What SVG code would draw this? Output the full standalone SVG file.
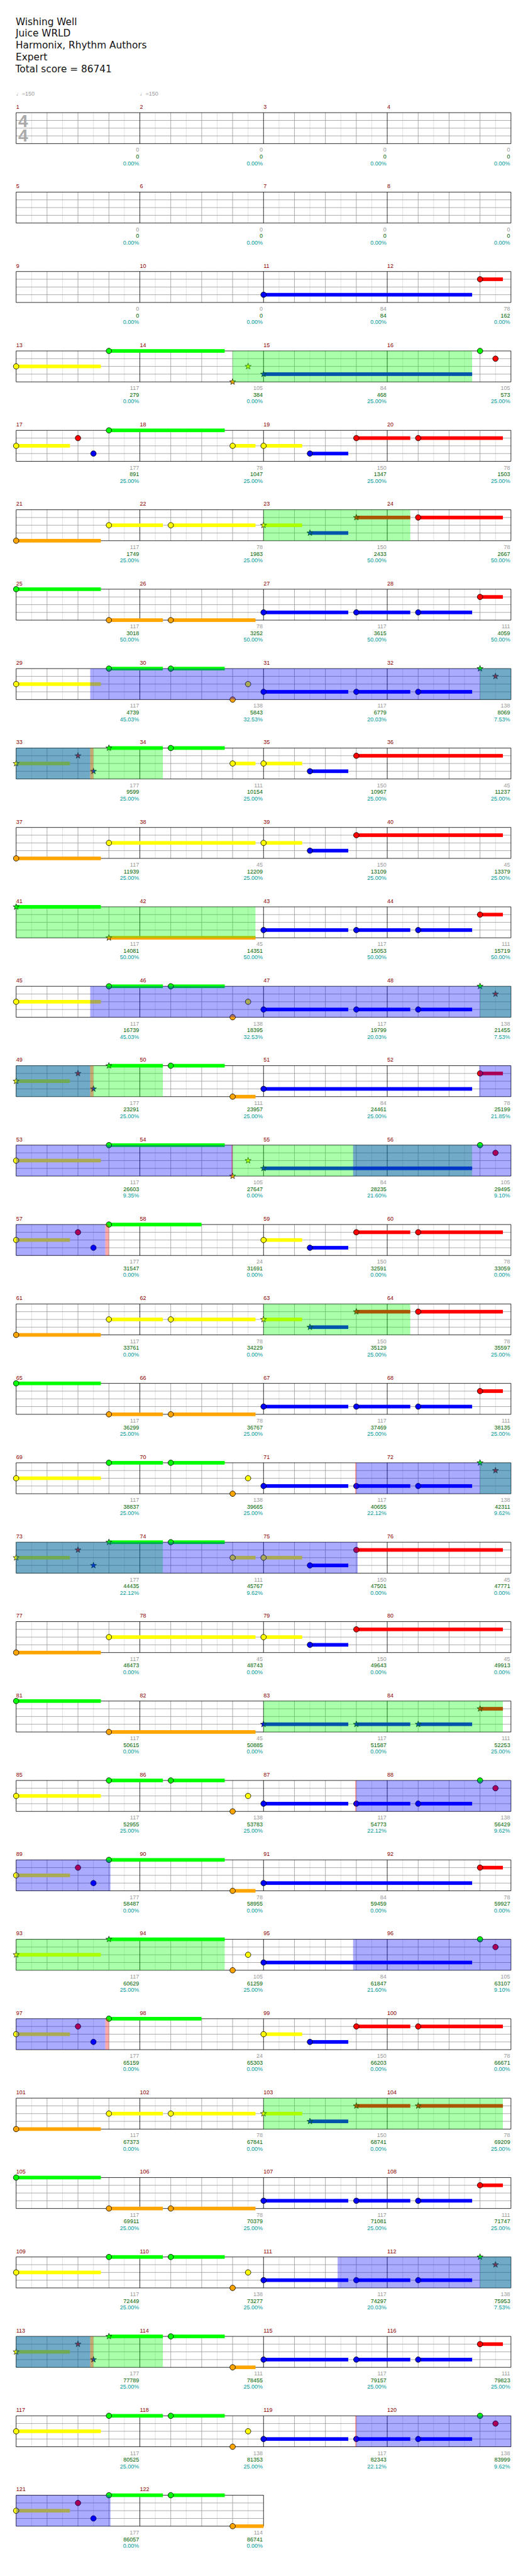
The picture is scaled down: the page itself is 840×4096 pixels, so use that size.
<svg xmlns="http://www.w3.org/2000/svg" xmlns:xlink="http://www.w3.org/1999/xlink" width="840" height="4096" viewBox="0 0 840 4096">
<style>
.G{fill:#00ff00}.R{fill:#ff0000}.Y{fill:#ffff00}.B{fill:#0000ff}.O{fill:#ffa500}
.og{fill:#00ff00;fill-opacity:.333}.ob{fill:#0000ff;fill-opacity:.333}.or{fill:#ff0000;fill-opacity:.333}
text{font-family:"Liberation Sans",Arial,sans-serif;font-size:11px}
.mn{fill:#8b0000}.a{fill:#999;text-anchor:end}.b{fill:#006400;text-anchor:end}.p{fill:#009999;text-anchor:end}
.h{font-family:"DejaVu Sans",Verdana,sans-serif;font-size:18.7px;fill:#111}
.tp{fill:#999}
.ts{font-size:34px;font-weight:bold;fill:#aaa}
</style>
<defs>
<circle id="c" r="5.3" stroke="#000" stroke-width="1"/>
<path id="s" d="M0,-6.2L1.45,-2L5.9,-1.9L2.35,0.76L3.65,5L0,2.5L-3.65,5L-2.35,0.76L-5.9,-1.9L-1.45,-2Z" stroke="#000" stroke-width="0.8"/>
<g id="st4">
<path d="M30,0V60M90,0V60M150,0V60M210,0V60M270,0V60M330,0V60M390,0V60M450,0V60M510,0V60M570,0V60M630,0V60M690,0V60M750,0V60M810,0V60M870,0V60M930,0V60" stroke="#dcdcdc" fill="none"/>
<path d="M0,15H960M0,30H960M0,45H960M60,0V60M120,0V60M180,0V60M300,0V60M360,0V60M420,0V60M540,0V60M600,0V60M660,0V60M780,0V60M840,0V60M900,0V60" stroke="#999" fill="none"/>
<path d="M0,0H960V60H0ZM240,0V60M480,0V60M720,0V60" fill="none" stroke="#000"/>
</g>
<g id="st2">
<path d="M30,0V60M90,0V60M150,0V60M210,0V60M270,0V60M330,0V60M390,0V60M450,0V60" stroke="#dcdcdc" fill="none"/>
<path d="M0,15H480M0,30H480M0,45H480M60,0V60M120,0V60M180,0V60M300,0V60M360,0V60M420,0V60" stroke="#999" fill="none"/>
<path d="M0,0H480V60H0ZM240,0V60" fill="none" stroke="#000"/>
</g>
<g id="b3">
<rect class="B" x="480" y="41.5" width="164.4" height="7"/><use href="#c" class="B" x="480" y="45"/>
<rect class="B" x="660" y="41.5" width="104.7" height="7"/><use href="#c" class="B" x="660" y="45"/>
<rect class="B" x="780" y="41.5" width="104.7" height="7"/><use href="#c" class="B" x="780" y="45"/>
</g>
<g id="rr"><rect class="R" x="900" y="11.5" width="44.4" height="7"/><use href="#c" class="R" x="900" y="15"/></g>
<g id="pA">
<rect class="Y" x="0" y="26.5" width="164.4" height="7"/><use href="#c" class="Y" x="0" y="30"/>
<rect class="G" x="180" y="-3.5" width="104.7" height="7"/><use href="#c" class="G" x="180" y="0"/>
<rect class="G" x="300" y="-3.5" width="104.7" height="7"/><use href="#c" class="G" x="300" y="0"/>
<use href="#c" class="O" x="420" y="60"/><use href="#c" class="Y" x="450" y="30"/>
<use href="#b3"/>
</g>
<g id="pB">
<rect class="G" x="0" y="-3.5" width="164.4" height="7"/><use href="#c" class="G" x="0" y="0"/>
<rect class="O" x="180" y="56.5" width="104.7" height="7"/><use href="#c" class="O" x="180" y="60"/>
<rect class="O" x="300" y="56.5" width="164.4" height="7"/><use href="#c" class="O" x="300" y="60"/>
<use href="#b3"/><use href="#rr"/>
</g>
<g id="pT">
<rect class="Y" x="480" y="26.5" width="75" height="7"/><use href="#c" class="Y" x="480" y="30"/>
<rect class="B" x="570" y="41.5" width="74.4" height="7"/><use href="#c" class="B" x="570" y="45"/>
<rect class="R" x="660" y="11.5" width="284.4" height="7"/><use href="#c" class="R" x="660" y="15"/>
</g>
<g id="pC">
<rect class="O" x="0" y="56.5" width="164.4" height="7"/><use href="#c" class="O" x="0" y="60"/>
<rect class="Y" x="180" y="26.5" width="284.4" height="7"/><use href="#c" class="Y" x="180" y="30"/>
<use href="#pT"/>
</g>
<g id="pH">
<rect class="Y" x="0" y="26.5" width="104.4" height="7"/><use href="#s" class="Y" x="0" y="30"/>
<use href="#s" class="R" x="120" y="15"/><use href="#s" class="B" x="150" y="45"/>
<rect class="G" x="180" y="-3.5" width="104.7" height="7"/><use href="#s" class="G" x="180" y="0"/>
<rect class="G" x="300" y="-3.5" width="104.7" height="7"/><use href="#c" class="G" x="300" y="0"/>
</g>
<g id="pV">
<rect class="Y" x="0" y="26.5" width="104.4" height="7"/><use href="#c" class="Y" x="0" y="30"/>
<use href="#c" class="R" x="120" y="15"/><use href="#c" class="B" x="150" y="45"/>
</g>
<g id="pU">
<rect class="Y" x="480" y="26.5" width="75" height="7"/><use href="#c" class="Y" x="480" y="30"/>
<rect class="B" x="570" y="41.5" width="74.4" height="7"/><use href="#c" class="B" x="570" y="45"/>
<rect class="R" x="660" y="11.5" width="104.7" height="7"/><use href="#c" class="R" x="660" y="15"/>
<rect class="R" x="780" y="11.5" width="164.4" height="7"/><use href="#c" class="R" x="780" y="15"/>
</g>
<g id="pS">
<rect class="O" x="0" y="56.5" width="164.4" height="7"/><use href="#c" class="O" x="0" y="60"/>
<rect class="Y" x="180" y="26.5" width="104.7" height="7"/><use href="#c" class="Y" x="180" y="30"/>
<rect class="Y" x="300" y="26.5" width="164.4" height="7"/><use href="#c" class="Y" x="300" y="30"/>
</g>
<g id="pX">
<rect class="Y" x="480" y="26.5" width="75" height="7"/><use href="#s" class="Y" x="480" y="30"/>
<rect class="B" x="570" y="41.5" width="74.4" height="7"/><use href="#s" class="B" x="570" y="45"/>
<rect class="R" x="660" y="11.5" width="104.7" height="7"/><use href="#s" class="R" x="660" y="15"/>
<rect class="R" x="780" y="11.5" width="164.4" height="7"/>
</g>
<g id="pW">
<rect class="Y" x="0" y="26.5" width="164.4" height="7"/><use href="#c" class="Y" x="0" y="30"/>
<rect class="G" x="180" y="-3.5" width="224.7" height="7"/><use href="#c" class="G" x="180" y="0"/>
<use href="#s" class="O" x="420" y="60"/><use href="#s" class="Y" x="450" y="30"/>
<rect class="B" x="480" y="41.5" width="404.7" height="7"/><use href="#s" class="B" x="480" y="45"/>
<use href="#c" class="G" x="900" y="0"/><use href="#c" class="R" x="930" y="15"/>
</g>
</defs>
<rect width="840" height="4096" fill="#fff"/>
<g transform="scale(0.82)">
<g id="header">
<text class="h" x="30.5" y="48.3">Wishing Well</text>
<text class="h" x="30.5" y="71">Juice WRLD</text>
<text class="h" x="30.5" y="94">Harmonix, Rhythm Authors</text>
<text class="h" x="30.5" y="117.3">Expert</text>
<text class="h" x="30" y="140">Total score = 86741</text>
</g>

<g id="row1" transform="translate(31.3,218.5)">
<use href="#st4"/>
<text class="ts" x="4" y="28.2">4</text><text class="ts" x="4" y="56.5">4</text>
<text class="tp" x="0" y="-33.5">♩=150</text><text class="tp" x="240" y="-33.5">♩=150</text>
<text class="mn" y="-7.5"><tspan x="0">1</tspan><tspan x="240">2</tspan><tspan x="480">3</tspan><tspan x="720">4</tspan></text>
<text class="a" y="76"><tspan x="238.5">0</tspan><tspan x="478.5">0</tspan><tspan x="718.5">0</tspan><tspan x="958.5">0</tspan></text>
<text class="b" y="89"><tspan x="238.5">0</tspan><tspan x="478.5">0</tspan><tspan x="718.5">0</tspan><tspan x="958.5">0</tspan></text>
<text class="p" y="101.7"><tspan x="238.5">0.00%</tspan><tspan x="478.5">0.00%</tspan><tspan x="718.5">0.00%</tspan><tspan x="958.5">0.00%</tspan></text>
</g>

<g id="row2" transform="translate(31.3,372.5)">
<use href="#st4"/>
<text class="mn" y="-7.5"><tspan x="0">5</tspan><tspan x="240">6</tspan><tspan x="480">7</tspan><tspan x="720">8</tspan></text>
<text class="a" y="76"><tspan x="238.5">0</tspan><tspan x="478.5">0</tspan><tspan x="718.5">0</tspan><tspan x="958.5">0</tspan></text>
<text class="b" y="89"><tspan x="238.5">0</tspan><tspan x="478.5">0</tspan><tspan x="718.5">0</tspan><tspan x="958.5">0</tspan></text>
<text class="p" y="101.7"><tspan x="238.5">0.00%</tspan><tspan x="478.5">0.00%</tspan><tspan x="718.5">0.00%</tspan><tspan x="958.5">0.00%</tspan></text>
</g>

<g id="row3" transform="translate(31.3,526.5)">
<use href="#st4"/>
<rect class="B" x="480" y="41.5" width="404.7" height="7"/><use href="#c" class="B" x="480" y="45"/><use href="#rr"/>
<text class="mn" y="-7.5"><tspan x="0">9</tspan><tspan x="240">10</tspan><tspan x="480">11</tspan><tspan x="720">12</tspan></text>
<text class="a" y="76"><tspan x="238.5">0</tspan><tspan x="478.5">0</tspan><tspan x="718.5">84</tspan><tspan x="958.5">78</tspan></text>
<text class="b" y="89"><tspan x="238.5">0</tspan><tspan x="478.5">0</tspan><tspan x="718.5">84</tspan><tspan x="958.5">162</tspan></text>
<text class="p" y="101.7"><tspan x="238.5">0.00%</tspan><tspan x="478.5">0.00%</tspan><tspan x="718.5">0.00%</tspan><tspan x="958.5">0.00%</tspan></text>
</g>

<g id="row4" transform="translate(31.3,680.5)">
<use href="#st4"/>
<use href="#pW"/>
<rect class="og" x="420" y="0" width="464.7" height="60"/>
<text class="mn" y="-7.5"><tspan x="0">13</tspan><tspan x="240">14</tspan><tspan x="480">15</tspan><tspan x="720">16</tspan></text>
<text class="a" y="76"><tspan x="238.5">117</tspan><tspan x="478.5">105</tspan><tspan x="718.5">84</tspan><tspan x="958.5">105</tspan></text>
<text class="b" y="89"><tspan x="238.5">279</tspan><tspan x="478.5">384</tspan><tspan x="718.5">468</tspan><tspan x="958.5">573</tspan></text>
<text class="p" y="101.7"><tspan x="238.5">0.00%</tspan><tspan x="478.5">0.00%</tspan><tspan x="718.5">25.00%</tspan><tspan x="958.5">25.00%</tspan></text>
</g>

<g id="row5" transform="translate(31.3,834.5)">
<use href="#st4"/>
<use href="#pV"/>
<rect class="G" x="180" y="-3.5" width="224.7" height="7"/><use href="#c" class="G" x="180" y="0"/>
<rect class="Y" x="420" y="26.5" width="44.4" height="7"/><use href="#c" class="Y" x="420" y="30"/>
<use href="#pU"/>
<text class="mn" y="-7.5"><tspan x="0">17</tspan><tspan x="240">18</tspan><tspan x="480">19</tspan><tspan x="720">20</tspan></text>
<text class="a" y="76"><tspan x="238.5">177</tspan><tspan x="478.5">78</tspan><tspan x="718.5">150</tspan><tspan x="958.5">78</tspan></text>
<text class="b" y="89"><tspan x="238.5">891</tspan><tspan x="478.5">1047</tspan><tspan x="718.5">1347</tspan><tspan x="958.5">1503</tspan></text>
<text class="p" y="101.7"><tspan x="238.5">25.00%</tspan><tspan x="478.5">25.00%</tspan><tspan x="718.5">25.00%</tspan><tspan x="958.5">25.00%</tspan></text>
</g>

<g id="row6" transform="translate(31.3,988.5)">
<use href="#st4"/>
<use href="#pS"/><use href="#pX"/><use href="#c" class="R" x="780" y="15"/>
<rect class="og" x="480" y="0" width="284.7" height="60"/>
<text class="mn" y="-7.5"><tspan x="0">21</tspan><tspan x="240">22</tspan><tspan x="480">23</tspan><tspan x="720">24</tspan></text>
<text class="a" y="76"><tspan x="238.5">117</tspan><tspan x="478.5">78</tspan><tspan x="718.5">150</tspan><tspan x="958.5">78</tspan></text>
<text class="b" y="89"><tspan x="238.5">1749</tspan><tspan x="478.5">1983</tspan><tspan x="718.5">2433</tspan><tspan x="958.5">2667</tspan></text>
<text class="p" y="101.7"><tspan x="238.5">25.00%</tspan><tspan x="478.5">25.00%</tspan><tspan x="718.5">50.00%</tspan><tspan x="958.5">50.00%</tspan></text>
</g>

<g id="row7" transform="translate(31.3,1142.5)">
<use href="#st4"/>
<use href="#pB"/>
<text class="mn" y="-7.5"><tspan x="0">25</tspan><tspan x="240">26</tspan><tspan x="480">27</tspan><tspan x="720">28</tspan></text>
<text class="a" y="76"><tspan x="238.5">117</tspan><tspan x="478.5">78</tspan><tspan x="718.5">117</tspan><tspan x="958.5">111</tspan></text>
<text class="b" y="89"><tspan x="238.5">3018</tspan><tspan x="478.5">3252</tspan><tspan x="718.5">3615</tspan><tspan x="958.5">4059</tspan></text>
<text class="p" y="101.7"><tspan x="238.5">50.00%</tspan><tspan x="478.5">50.00%</tspan><tspan x="718.5">50.00%</tspan><tspan x="958.5">50.00%</tspan></text>
</g>

<g id="row8" transform="translate(31.3,1296.5)">
<use href="#st4"/>
<use href="#pA"/><use href="#s" class="G" x="900" y="0"/><use href="#s" class="R" x="930" y="15"/>
<rect class="og" x="900" y="0" width="60" height="60"/><rect class="ob" x="143.7" y="0" width="816.3" height="60"/>
<text class="mn" y="-7.5"><tspan x="0">29</tspan><tspan x="240">30</tspan><tspan x="480">31</tspan><tspan x="720">32</tspan></text>
<text class="a" y="76"><tspan x="238.5">117</tspan><tspan x="478.5">138</tspan><tspan x="718.5">117</tspan><tspan x="958.5">138</tspan></text>
<text class="b" y="89"><tspan x="238.5">4739</tspan><tspan x="478.5">5843</tspan><tspan x="718.5">6779</tspan><tspan x="958.5">8069</tspan></text>
<text class="p" y="101.7"><tspan x="238.5">45.03%</tspan><tspan x="478.5">32.53%</tspan><tspan x="718.5">20.03%</tspan><tspan x="958.5">7.53%</tspan></text>
</g>

<g id="row9" transform="translate(31.3,1450.5)">
<use href="#st4"/>
<use href="#pH"/>
<rect class="Y" x="420" y="26.5" width="44.4" height="7"/><use href="#c" class="Y" x="420" y="30"/>
<use href="#pT"/>
<rect class="og" x="0" y="0" width="284.7" height="60"/><rect class="ob" x="0" y="0" width="143.7" height="60"/><rect class="or" x="143.7" y="0" width="6.3" height="60"/>
<text class="mn" y="-7.5"><tspan x="0">33</tspan><tspan x="240">34</tspan><tspan x="480">35</tspan><tspan x="720">36</tspan></text>
<text class="a" y="76"><tspan x="238.5">177</tspan><tspan x="478.5">111</tspan><tspan x="718.5">150</tspan><tspan x="958.5">45</tspan></text>
<text class="b" y="89"><tspan x="238.5">9599</tspan><tspan x="478.5">10154</tspan><tspan x="718.5">10967</tspan><tspan x="958.5">11237</tspan></text>
<text class="p" y="101.7"><tspan x="238.5">25.00%</tspan><tspan x="478.5">25.00%</tspan><tspan x="718.5">25.00%</tspan><tspan x="958.5">25.00%</tspan></text>
</g>

<g id="row10" transform="translate(31.3,1604.5)">
<use href="#st4"/>
<use href="#pC"/>
<text class="mn" y="-7.5"><tspan x="0">37</tspan><tspan x="240">38</tspan><tspan x="480">39</tspan><tspan x="720">40</tspan></text>
<text class="a" y="76"><tspan x="238.5">117</tspan><tspan x="478.5">45</tspan><tspan x="718.5">150</tspan><tspan x="958.5">45</tspan></text>
<text class="b" y="89"><tspan x="238.5">11939</tspan><tspan x="478.5">12209</tspan><tspan x="718.5">13109</tspan><tspan x="958.5">13379</tspan></text>
<text class="p" y="101.7"><tspan x="238.5">25.00%</tspan><tspan x="478.5">25.00%</tspan><tspan x="718.5">25.00%</tspan><tspan x="958.5">25.00%</tspan></text>
</g>

<g id="row11" transform="translate(31.3,1758.5)">
<use href="#st4"/>
<rect class="G" x="0" y="-3.5" width="164.4" height="7"/><use href="#s" class="G" x="0" y="0"/>
<rect class="O" x="180" y="56.5" width="284.4" height="7"/><use href="#s" class="O" x="180" y="60"/>
<use href="#b3"/><use href="#rr"/>
<rect class="og" x="0" y="0" width="464.4" height="60"/>
<text class="mn" y="-7.5"><tspan x="0">41</tspan><tspan x="240">42</tspan><tspan x="480">43</tspan><tspan x="720">44</tspan></text>
<text class="a" y="76"><tspan x="238.5">117</tspan><tspan x="478.5">45</tspan><tspan x="718.5">117</tspan><tspan x="958.5">111</tspan></text>
<text class="b" y="89"><tspan x="238.5">14081</tspan><tspan x="478.5">14351</tspan><tspan x="718.5">15053</tspan><tspan x="958.5">15719</tspan></text>
<text class="p" y="101.7"><tspan x="238.5">50.00%</tspan><tspan x="478.5">50.00%</tspan><tspan x="718.5">50.00%</tspan><tspan x="958.5">50.00%</tspan></text>
</g>

<g id="row12" transform="translate(31.3,1912.5)">
<use href="#st4"/>
<use href="#pA"/><use href="#s" class="G" x="900" y="0"/><use href="#s" class="R" x="930" y="15"/>
<rect class="og" x="900" y="0" width="60" height="60"/><rect class="ob" x="143.7" y="0" width="816.3" height="60"/>
<text class="mn" y="-7.5"><tspan x="0">45</tspan><tspan x="240">46</tspan><tspan x="480">47</tspan><tspan x="720">48</tspan></text>
<text class="a" y="76"><tspan x="238.5">117</tspan><tspan x="478.5">138</tspan><tspan x="718.5">117</tspan><tspan x="958.5">138</tspan></text>
<text class="b" y="89"><tspan x="238.5">16739</tspan><tspan x="478.5">18395</tspan><tspan x="718.5">19799</tspan><tspan x="958.5">21455</tspan></text>
<text class="p" y="101.7"><tspan x="238.5">45.03%</tspan><tspan x="478.5">32.53%</tspan><tspan x="718.5">20.03%</tspan><tspan x="958.5">7.53%</tspan></text>
</g>

<g id="row13" transform="translate(31.3,2066.5)">
<use href="#st4"/>
<use href="#pH"/>
<rect class="O" x="420" y="56.5" width="44.4" height="7"/><use href="#c" class="O" x="420" y="60"/>
<rect class="B" x="480" y="41.5" width="404.7" height="7"/><use href="#c" class="B" x="480" y="45"/><use href="#rr"/>
<rect class="og" x="0" y="0" width="284.7" height="60"/><rect class="ob" x="0" y="0" width="143.7" height="60"/><rect class="or" x="143.7" y="0" width="6.3" height="60"/>
<rect class="ob" x="898.5" y="0" width="61.5" height="60"/>
<text class="mn" y="-7.5"><tspan x="0">49</tspan><tspan x="240">50</tspan><tspan x="480">51</tspan><tspan x="720">52</tspan></text>
<text class="a" y="76"><tspan x="238.5">177</tspan><tspan x="478.5">111</tspan><tspan x="718.5">84</tspan><tspan x="958.5">78</tspan></text>
<text class="b" y="89"><tspan x="238.5">23291</tspan><tspan x="478.5">23957</tspan><tspan x="718.5">24461</tspan><tspan x="958.5">25199</tspan></text>
<text class="p" y="101.7"><tspan x="238.5">25.00%</tspan><tspan x="478.5">25.00%</tspan><tspan x="718.5">25.00%</tspan><tspan x="958.5">21.85%</tspan></text>
</g>

<g id="row14" transform="translate(31.3,2220.5)">
<use href="#st4"/>
<use href="#pW"/>
<rect class="ob" x="0" y="0" width="420" height="60"/><rect class="or" x="417.6" y="0" width="2.4" height="60"/>
<rect class="og" x="420" y="0" width="464.7" height="60"/><rect class="ob" x="653.7" y="0" width="306.3" height="60"/>
<text class="mn" y="-7.5"><tspan x="0">53</tspan><tspan x="240">54</tspan><tspan x="480">55</tspan><tspan x="720">56</tspan></text>
<text class="a" y="76"><tspan x="238.5">117</tspan><tspan x="478.5">105</tspan><tspan x="718.5">84</tspan><tspan x="958.5">105</tspan></text>
<text class="b" y="89"><tspan x="238.5">26603</tspan><tspan x="478.5">27647</tspan><tspan x="718.5">28235</tspan><tspan x="958.5">29495</tspan></text>
<text class="p" y="101.7"><tspan x="238.5">9.35%</tspan><tspan x="478.5">0.00%</tspan><tspan x="718.5">21.60%</tspan><tspan x="958.5">9.10%</tspan></text>
</g>

<g id="row15" transform="translate(31.3,2374.5)">
<use href="#st4"/>
<use href="#pV"/>
<rect class="G" x="180" y="-3.5" width="179.7" height="7"/><use href="#c" class="G" x="180" y="0"/>
<use href="#pU"/>
<rect class="ob" x="0" y="0" width="173.1" height="60"/><rect class="or" x="173.1" y="0" width="6.9" height="60"/>
<text class="mn" y="-7.5"><tspan x="0">57</tspan><tspan x="240">58</tspan><tspan x="480">59</tspan><tspan x="720">60</tspan></text>
<text class="a" y="76"><tspan x="238.5">177</tspan><tspan x="478.5">24</tspan><tspan x="718.5">150</tspan><tspan x="958.5">78</tspan></text>
<text class="b" y="89"><tspan x="238.5">31547</tspan><tspan x="478.5">31691</tspan><tspan x="718.5">32591</tspan><tspan x="958.5">33059</tspan></text>
<text class="p" y="101.7"><tspan x="238.5">0.00%</tspan><tspan x="478.5">0.00%</tspan><tspan x="718.5">0.00%</tspan><tspan x="958.5">0.00%</tspan></text>
</g>

<g id="row16" transform="translate(31.3,2528.5)">
<use href="#st4"/>
<use href="#pS"/><use href="#pX"/><use href="#c" class="R" x="780" y="15"/>
<rect class="og" x="480" y="0" width="284.7" height="60"/>
<text class="mn" y="-7.5"><tspan x="0">61</tspan><tspan x="240">62</tspan><tspan x="480">63</tspan><tspan x="720">64</tspan></text>
<text class="a" y="76"><tspan x="238.5">117</tspan><tspan x="478.5">78</tspan><tspan x="718.5">150</tspan><tspan x="958.5">78</tspan></text>
<text class="b" y="89"><tspan x="238.5">33761</tspan><tspan x="478.5">34229</tspan><tspan x="718.5">35129</tspan><tspan x="958.5">35597</tspan></text>
<text class="p" y="101.7"><tspan x="238.5">0.00%</tspan><tspan x="478.5">0.00%</tspan><tspan x="718.5">25.00%</tspan><tspan x="958.5">25.00%</tspan></text>
</g>

<g id="row17" transform="translate(31.3,2682.5)">
<use href="#st4"/>
<use href="#pB"/>
<text class="mn" y="-7.5"><tspan x="0">65</tspan><tspan x="240">66</tspan><tspan x="480">67</tspan><tspan x="720">68</tspan></text>
<text class="a" y="76"><tspan x="238.5">117</tspan><tspan x="478.5">78</tspan><tspan x="718.5">117</tspan><tspan x="958.5">111</tspan></text>
<text class="b" y="89"><tspan x="238.5">36299</tspan><tspan x="478.5">36767</tspan><tspan x="718.5">37469</tspan><tspan x="958.5">38135</tspan></text>
<text class="p" y="101.7"><tspan x="238.5">25.00%</tspan><tspan x="478.5">25.00%</tspan><tspan x="718.5">25.00%</tspan><tspan x="958.5">25.00%</tspan></text>
</g>

<g id="row18" transform="translate(31.3,2836.5)">
<use href="#st4"/>
<use href="#pA"/><use href="#s" class="G" x="900" y="0"/><use href="#s" class="R" x="930" y="15"/>
<rect class="og" x="900" y="0" width="60" height="60"/><rect class="or" x="657.6" y="0" width="2.4" height="60"/><rect class="ob" x="660" y="0" width="300" height="60"/>
<text class="mn" y="-7.5"><tspan x="0">69</tspan><tspan x="240">70</tspan><tspan x="480">71</tspan><tspan x="720">72</tspan></text>
<text class="a" y="76"><tspan x="238.5">117</tspan><tspan x="478.5">138</tspan><tspan x="718.5">117</tspan><tspan x="958.5">138</tspan></text>
<text class="b" y="89"><tspan x="238.5">38837</tspan><tspan x="478.5">39665</tspan><tspan x="718.5">40655</tspan><tspan x="958.5">42311</tspan></text>
<text class="p" y="101.7"><tspan x="238.5">25.00%</tspan><tspan x="478.5">25.00%</tspan><tspan x="718.5">22.12%</tspan><tspan x="958.5">9.62%</tspan></text>
</g>

<g id="row19" transform="translate(31.3,2990.5)">
<use href="#st4"/>
<use href="#pH"/>
<rect class="Y" x="420" y="26.5" width="44.4" height="7"/><use href="#c" class="Y" x="420" y="30"/>
<use href="#pT"/>
<rect class="og" x="0" y="0" width="284.7" height="60"/><rect class="ob" x="0" y="0" width="662.7" height="60"/>
<text class="mn" y="-7.5"><tspan x="0">73</tspan><tspan x="240">74</tspan><tspan x="480">75</tspan><tspan x="720">76</tspan></text>
<text class="a" y="76"><tspan x="238.5">177</tspan><tspan x="478.5">111</tspan><tspan x="718.5">150</tspan><tspan x="958.5">45</tspan></text>
<text class="b" y="89"><tspan x="238.5">44435</tspan><tspan x="478.5">45767</tspan><tspan x="718.5">47501</tspan><tspan x="958.5">47771</tspan></text>
<text class="p" y="101.7"><tspan x="238.5">22.12%</tspan><tspan x="478.5">9.62%</tspan><tspan x="718.5">0.00%</tspan><tspan x="958.5">0.00%</tspan></text>
</g>

<g id="row20" transform="translate(31.3,3144.5)">
<use href="#st4"/>
<use href="#pC"/>
<text class="mn" y="-7.5"><tspan x="0">77</tspan><tspan x="240">78</tspan><tspan x="480">79</tspan><tspan x="720">80</tspan></text>
<text class="a" y="76"><tspan x="238.5">117</tspan><tspan x="478.5">45</tspan><tspan x="718.5">150</tspan><tspan x="958.5">45</tspan></text>
<text class="b" y="89"><tspan x="238.5">48473</tspan><tspan x="478.5">48743</tspan><tspan x="718.5">49643</tspan><tspan x="958.5">49913</tspan></text>
<text class="p" y="101.7"><tspan x="238.5">0.00%</tspan><tspan x="478.5">0.00%</tspan><tspan x="718.5">0.00%</tspan><tspan x="958.5">0.00%</tspan></text>
</g>

<g id="row21" transform="translate(31.3,3298.5)">
<use href="#st4"/>
<rect class="G" x="0" y="-3.5" width="164.4" height="7"/><use href="#c" class="G" x="0" y="0"/>
<rect class="O" x="180" y="56.5" width="284.4" height="7"/><use href="#c" class="O" x="180" y="60"/>
<rect class="B" x="480" y="41.5" width="164.4" height="7"/><use href="#s" class="B" x="480" y="45"/>
<rect class="B" x="660" y="41.5" width="104.7" height="7"/><use href="#s" class="B" x="660" y="45"/>
<rect class="B" x="780" y="41.5" width="104.7" height="7"/><use href="#s" class="B" x="780" y="45"/>
<rect class="R" x="900" y="11.5" width="44.4" height="7"/><use href="#s" class="R" x="900" y="15"/>
<rect class="og" x="480" y="0" width="464.4" height="60"/>
<text class="mn" y="-7.5"><tspan x="0">81</tspan><tspan x="240">82</tspan><tspan x="480">83</tspan><tspan x="720">84</tspan></text>
<text class="a" y="76"><tspan x="238.5">117</tspan><tspan x="478.5">45</tspan><tspan x="718.5">117</tspan><tspan x="958.5">111</tspan></text>
<text class="b" y="89"><tspan x="238.5">50615</tspan><tspan x="478.5">50885</tspan><tspan x="718.5">51587</tspan><tspan x="958.5">52253</tspan></text>
<text class="p" y="101.7"><tspan x="238.5">0.00%</tspan><tspan x="478.5">0.00%</tspan><tspan x="718.5">0.00%</tspan><tspan x="958.5">25.00%</tspan></text>
</g>

<g id="row22" transform="translate(31.3,3452.5)">
<use href="#st4"/>
<use href="#pA"/><use href="#c" class="G" x="900" y="0"/><use href="#c" class="R" x="930" y="15"/>
<rect class="or" x="657.6" y="0" width="2.4" height="60"/><rect class="ob" x="660" y="0" width="300" height="60"/>
<text class="mn" y="-7.5"><tspan x="0">85</tspan><tspan x="240">86</tspan><tspan x="480">87</tspan><tspan x="720">88</tspan></text>
<text class="a" y="76"><tspan x="238.5">117</tspan><tspan x="478.5">138</tspan><tspan x="718.5">117</tspan><tspan x="958.5">138</tspan></text>
<text class="b" y="89"><tspan x="238.5">52955</tspan><tspan x="478.5">53783</tspan><tspan x="718.5">54773</tspan><tspan x="958.5">56429</tspan></text>
<text class="p" y="101.7"><tspan x="238.5">25.00%</tspan><tspan x="478.5">25.00%</tspan><tspan x="718.5">22.12%</tspan><tspan x="958.5">9.62%</tspan></text>
</g>

<g id="row23" transform="translate(31.3,3606.5)">
<use href="#st4"/>
<use href="#pV"/>
<rect class="G" x="180" y="-3.5" width="224.7" height="7"/><use href="#c" class="G" x="180" y="0"/>
<rect class="O" x="420" y="56.5" width="44.4" height="7"/><use href="#c" class="O" x="420" y="60"/>
<rect class="B" x="480" y="41.5" width="404.7" height="7"/><use href="#c" class="B" x="480" y="45"/><use href="#rr"/>
<rect class="ob" x="0" y="0" width="183" height="60"/>
<text class="mn" y="-7.5"><tspan x="0">89</tspan><tspan x="240">90</tspan><tspan x="480">91</tspan><tspan x="720">92</tspan></text>
<text class="a" y="76"><tspan x="238.5">177</tspan><tspan x="478.5">78</tspan><tspan x="718.5">84</tspan><tspan x="958.5">78</tspan></text>
<text class="b" y="89"><tspan x="238.5">58487</tspan><tspan x="478.5">58955</tspan><tspan x="718.5">59459</tspan><tspan x="958.5">59927</tspan></text>
<text class="p" y="101.7"><tspan x="238.5">0.00%</tspan><tspan x="478.5">0.00%</tspan><tspan x="718.5">0.00%</tspan><tspan x="958.5">0.00%</tspan></text>
</g>

<g id="row24" transform="translate(31.3,3760.5)">
<use href="#st4"/>
<rect class="Y" x="0" y="26.5" width="164.4" height="7"/><use href="#s" class="Y" x="0" y="30"/>
<rect class="G" x="180" y="-3.5" width="224.7" height="7"/><use href="#s" class="G" x="180" y="0"/>
<use href="#c" class="O" x="420" y="60"/><use href="#c" class="Y" x="450" y="30"/>
<rect class="B" x="480" y="41.5" width="404.7" height="7"/><use href="#c" class="B" x="480" y="45"/>
<use href="#c" class="G" x="900" y="0"/><use href="#c" class="R" x="930" y="15"/>
<rect class="og" x="0" y="0" width="404.7" height="60"/><rect class="ob" x="653.7" y="0" width="306.3" height="60"/>
<text class="mn" y="-7.5"><tspan x="0">93</tspan><tspan x="240">94</tspan><tspan x="480">95</tspan><tspan x="720">96</tspan></text>
<text class="a" y="76"><tspan x="238.5">117</tspan><tspan x="478.5">105</tspan><tspan x="718.5">84</tspan><tspan x="958.5">105</tspan></text>
<text class="b" y="89"><tspan x="238.5">60629</tspan><tspan x="478.5">61259</tspan><tspan x="718.5">61847</tspan><tspan x="958.5">63107</tspan></text>
<text class="p" y="101.7"><tspan x="238.5">25.00%</tspan><tspan x="478.5">25.00%</tspan><tspan x="718.5">21.60%</tspan><tspan x="958.5">9.10%</tspan></text>
</g>

<g id="row25" transform="translate(31.3,3914.5)">
<use href="#st4"/>
<use href="#pV"/>
<rect class="G" x="180" y="-3.5" width="179.7" height="7"/><use href="#c" class="G" x="180" y="0"/>
<use href="#pU"/>
<rect class="ob" x="0" y="0" width="173.1" height="60"/><rect class="or" x="173.1" y="0" width="6.9" height="60"/>
<text class="mn" y="-7.5"><tspan x="0">97</tspan><tspan x="240">98</tspan><tspan x="480">99</tspan><tspan x="720">100</tspan></text>
<text class="a" y="76"><tspan x="238.5">177</tspan><tspan x="478.5">24</tspan><tspan x="718.5">150</tspan><tspan x="958.5">78</tspan></text>
<text class="b" y="89"><tspan x="238.5">65159</tspan><tspan x="478.5">65303</tspan><tspan x="718.5">66203</tspan><tspan x="958.5">66671</tspan></text>
<text class="p" y="101.7"><tspan x="238.5">0.00%</tspan><tspan x="478.5">0.00%</tspan><tspan x="718.5">0.00%</tspan><tspan x="958.5">0.00%</tspan></text>
</g>

<g id="row26" transform="translate(31.3,4068.5)">
<use href="#st4"/>
<use href="#pS"/><use href="#pX"/><use href="#s" class="R" x="780" y="15"/>
<rect class="og" x="480" y="0" width="464.4" height="60"/>
<text class="mn" y="-7.5"><tspan x="0">101</tspan><tspan x="240">102</tspan><tspan x="480">103</tspan><tspan x="720">104</tspan></text>
<text class="a" y="76"><tspan x="238.5">117</tspan><tspan x="478.5">78</tspan><tspan x="718.5">150</tspan><tspan x="958.5">78</tspan></text>
<text class="b" y="89"><tspan x="238.5">67373</tspan><tspan x="478.5">67841</tspan><tspan x="718.5">68741</tspan><tspan x="958.5">69209</tspan></text>
<text class="p" y="101.7"><tspan x="238.5">0.00%</tspan><tspan x="478.5">0.00%</tspan><tspan x="718.5">0.00%</tspan><tspan x="958.5">25.00%</tspan></text>
</g>

<g id="row27" transform="translate(31.3,4222.5)">
<use href="#st4"/>
<use href="#pB"/>
<text class="mn" y="-7.5"><tspan x="0">105</tspan><tspan x="240">106</tspan><tspan x="480">107</tspan><tspan x="720">108</tspan></text>
<text class="a" y="76"><tspan x="238.5">117</tspan><tspan x="478.5">78</tspan><tspan x="718.5">117</tspan><tspan x="958.5">111</tspan></text>
<text class="b" y="89"><tspan x="238.5">69911</tspan><tspan x="478.5">70379</tspan><tspan x="718.5">71081</tspan><tspan x="958.5">71747</tspan></text>
<text class="p" y="101.7"><tspan x="238.5">25.00%</tspan><tspan x="478.5">25.00%</tspan><tspan x="718.5">25.00%</tspan><tspan x="958.5">25.00%</tspan></text>
</g>

<g id="row28" transform="translate(31.3,4376.5)">
<use href="#st4"/>
<use href="#pA"/><use href="#s" class="G" x="900" y="0"/><use href="#s" class="R" x="930" y="15"/>
<rect class="og" x="900" y="0" width="60" height="60"/><rect class="ob" x="623.7" y="0" width="336.3" height="60"/>
<text class="mn" y="-7.5"><tspan x="0">109</tspan><tspan x="240">110</tspan><tspan x="480">111</tspan><tspan x="720">112</tspan></text>
<text class="a" y="76"><tspan x="238.5">117</tspan><tspan x="478.5">138</tspan><tspan x="718.5">117</tspan><tspan x="958.5">138</tspan></text>
<text class="b" y="89"><tspan x="238.5">72449</tspan><tspan x="478.5">73277</tspan><tspan x="718.5">74297</tspan><tspan x="958.5">75953</tspan></text>
<text class="p" y="101.7"><tspan x="238.5">25.00%</tspan><tspan x="478.5">25.00%</tspan><tspan x="718.5">20.03%</tspan><tspan x="958.5">7.53%</tspan></text>
</g>

<g id="row29" transform="translate(31.3,4530.5)">
<use href="#st4"/>
<use href="#pH"/>
<rect class="O" x="420" y="56.5" width="44.4" height="7"/><use href="#c" class="O" x="420" y="60"/>
<use href="#b3"/><use href="#rr"/>
<rect class="og" x="0" y="0" width="284.7" height="60"/><rect class="ob" x="0" y="0" width="143.7" height="60"/><rect class="or" x="143.7" y="0" width="6.3" height="60"/>
<text class="mn" y="-7.5"><tspan x="0">113</tspan><tspan x="240">114</tspan><tspan x="480">115</tspan><tspan x="720">116</tspan></text>
<text class="a" y="76"><tspan x="238.5">177</tspan><tspan x="478.5">111</tspan><tspan x="718.5">117</tspan><tspan x="958.5">111</tspan></text>
<text class="b" y="89"><tspan x="238.5">77789</tspan><tspan x="478.5">78455</tspan><tspan x="718.5">79157</tspan><tspan x="958.5">79823</tspan></text>
<text class="p" y="101.7"><tspan x="238.5">25.00%</tspan><tspan x="478.5">25.00%</tspan><tspan x="718.5">25.00%</tspan><tspan x="958.5">25.00%</tspan></text>
</g>

<g id="row30" transform="translate(31.3,4684.5)">
<use href="#st4"/>
<use href="#pA"/><use href="#c" class="G" x="900" y="0"/><use href="#c" class="R" x="930" y="15"/>
<rect class="or" x="657.6" y="0" width="2.4" height="60"/><rect class="ob" x="660" y="0" width="300" height="60"/>
<text class="mn" y="-7.5"><tspan x="0">117</tspan><tspan x="240">118</tspan><tspan x="480">119</tspan><tspan x="720">120</tspan></text>
<text class="a" y="76"><tspan x="238.5">117</tspan><tspan x="478.5">138</tspan><tspan x="718.5">117</tspan><tspan x="958.5">138</tspan></text>
<text class="b" y="89"><tspan x="238.5">80525</tspan><tspan x="478.5">81353</tspan><tspan x="718.5">82343</tspan><tspan x="958.5">83999</tspan></text>
<text class="p" y="101.7"><tspan x="238.5">25.00%</tspan><tspan x="478.5">25.00%</tspan><tspan x="718.5">22.12%</tspan><tspan x="958.5">9.62%</tspan></text>
</g>

<g id="row31" transform="translate(31.3,4838.5)">
<use href="#st2"/>
<use href="#pV"/>
<rect class="G" x="180" y="-3.5" width="104.7" height="7"/><use href="#c" class="G" x="180" y="0"/>
<rect class="G" x="300" y="-3.5" width="104.7" height="7"/><use href="#c" class="G" x="300" y="0"/>
<rect class="O" x="420" y="56.5" width="60" height="7"/><use href="#c" class="O" x="420" y="60"/>
<rect class="ob" x="0" y="0" width="183" height="60"/>
<text class="mn" y="-7.5"><tspan x="0">121</tspan><tspan x="240">122</tspan></text>
<text class="a" y="76"><tspan x="238.5">177</tspan><tspan x="478.5">114</tspan></text>
<text class="b" y="89"><tspan x="238.5">86057</tspan><tspan x="478.5">86741</tspan></text>
<text class="p" y="101.7"><tspan x="238.5">0.00%</tspan><tspan x="478.5">0.00%</tspan></text>
</g>
<g id="connectors"/>
</g>
</svg>
